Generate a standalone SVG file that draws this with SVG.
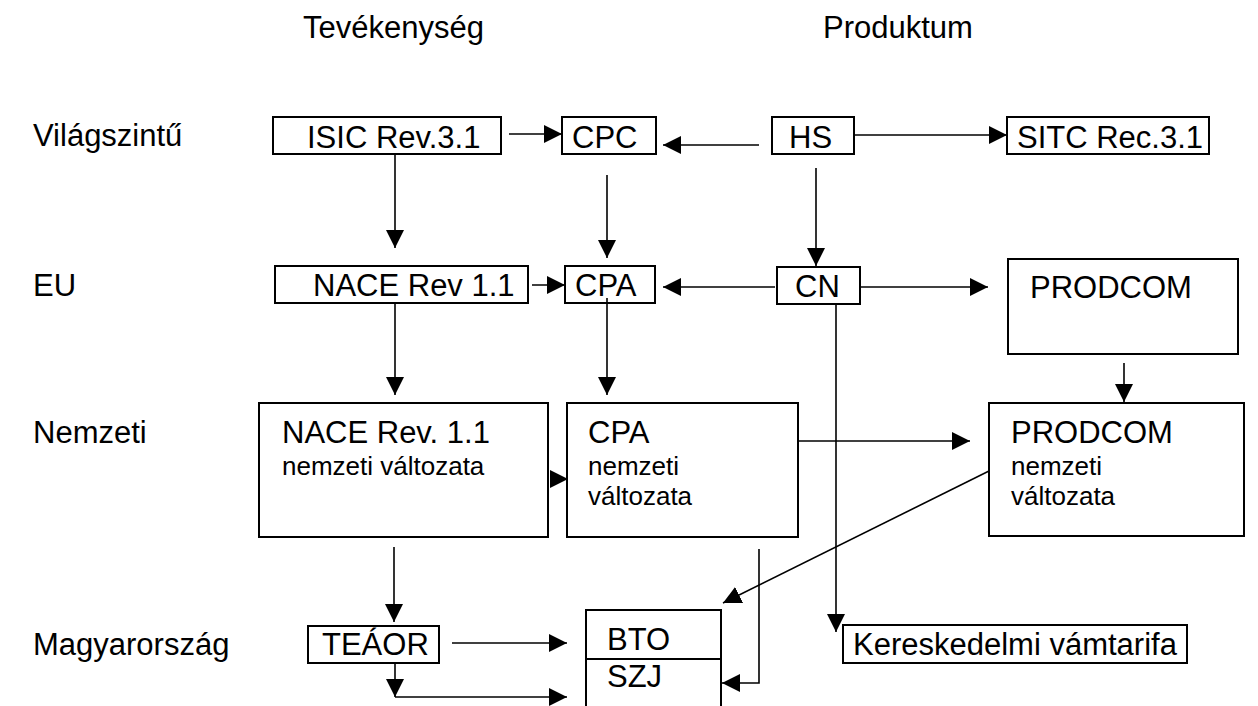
<svg xmlns="http://www.w3.org/2000/svg" width="1258" height="706" viewBox="0 0 1258 706">
<style>
text{font-family:"Liberation Sans",Arial,sans-serif;font-size:31px;fill:#000}
.s{font-size:26px}
.box{fill:#fff;stroke:#000;stroke-width:2}
.c{fill:none;stroke:#000;stroke-width:1.6}
.a{marker-end:url(#ah)}
</style>
<defs>
<marker id="ah" markerUnits="userSpaceOnUse" viewBox="0 0 18 18" markerWidth="18" markerHeight="18" refX="18" refY="9" orient="auto">
<path d="M0,0 L18,9 L0,18 z" fill="#000"/>
</marker>
</defs>
<rect width="1258" height="706" fill="#fff"/>
<g id="headers">
<text x="303" y="38">Tevékenység</text>
<text x="823" y="38">Produktum</text>
<text x="33" y="146">Világszintű</text>
<text x="33" y="296">EU</text>
<text x="33" y="443">Nemzeti</text>
<text x="33" y="655">Magyarország</text>
</g>
<g id="connectors">
<path class="c a" d="M509,134 H562"/>
<path class="c a" d="M759,145 H663"/>
<path class="c a" d="M854,135 H1007"/>
<path class="c a" d="M395,154 V248"/>
<path class="c a" d="M607,175 V258"/>
<path class="c a" d="M816,168 V266"/>
<path class="c a" d="M532,285 H565"/>
<path class="c a" d="M775,287 H663"/>
<path class="c a" d="M855,287 H988"/>
<path class="c a" d="M395,303 V395"/>
<path class="c a" d="M607,298 V395"/>
<path class="c a" d="M836,304 V632"/>
<path class="c a" d="M1124,363 V402"/>
<path class="c a" d="M552,479 H568"/>
<path class="c a" d="M798,441 H970"/>
<path class="c a" d="M989,471 L723,603"/>
<path class="c a" d="M394,547 V622"/>
<path class="c a" d="M759,549 V683 H722"/>
<path class="c a" d="M452,643 H567"/>
<path class="c a" d="M395,663 V697"/>
<path class="c a" d="M395,697 H567"/>
</g>
<g id="isic"><rect class="box" x="273" y="117" width="228" height="37"/><text x="307" y="148">ISIC Rev.3.1</text></g>
<g id="cpc"><rect class="box" x="562" y="117" width="94" height="37"/><text x="572" y="148">CPC</text></g>
<g id="hs"><rect class="box" x="772" y="117" width="82" height="37"/><text x="789" y="148">HS</text></g>
<g id="sitc"><rect class="box" x="1007" y="117" width="202" height="37"/><text x="1017" y="148">SITC Rec.3.1</text></g>
<g id="nace"><rect class="box" x="275" y="266" width="253" height="37"/><text x="313" y="296">NACE Rev 1.1</text></g>
<g id="cpa"><rect class="box" x="565" y="266" width="90" height="37"/><text x="575" y="296">CPA</text></g>
<g id="cn"><rect class="box" x="777" y="267" width="83" height="37"/><text x="795" y="297">CN</text></g>
<path class="c" d="M607,298 V303"/>
<g id="prodcom"><rect class="box" x="1008" y="259" width="230" height="95"/><text x="1030" y="298">PRODCOM</text></g>
<g id="nace-nemzeti"><rect class="box" x="259" y="403" width="289" height="134"/><text x="282" y="443">NACE Rev. 1.1</text><text class="s" x="282" y="475">nemzeti változata</text></g>
<g id="cpa-nemzeti"><rect class="box" x="567" y="403" width="231" height="134"/><text x="588" y="443">CPA</text><text class="s" x="588" y="475">nemzeti</text><text class="s" x="588" y="505">változata</text></g>
<g id="prodcom-nemzeti"><rect class="box" x="989" y="403" width="255" height="133"/><text x="1011" y="443">PRODCOM</text><text class="s" x="1011" y="475">nemzeti</text><text class="s" x="1011" y="505">változata</text></g>
<g id="teaor"><rect class="box" x="308" y="626" width="131" height="37"/><text x="322" y="655">TEÁOR</text></g>
<g id="bto-szj"><rect class="box" x="586" y="610" width="135" height="110"/><line x1="586" y1="659" x2="721" y2="659" stroke="#000" stroke-width="2"/><text x="607" y="650">BTO</text><text x="607" y="687">SZJ</text></g>
<g id="kereskedelmi"><rect class="box" x="843" y="625" width="344" height="38"/><text x="853" y="655">Kereskedelmi vámtarifa</text></g>
</svg>
